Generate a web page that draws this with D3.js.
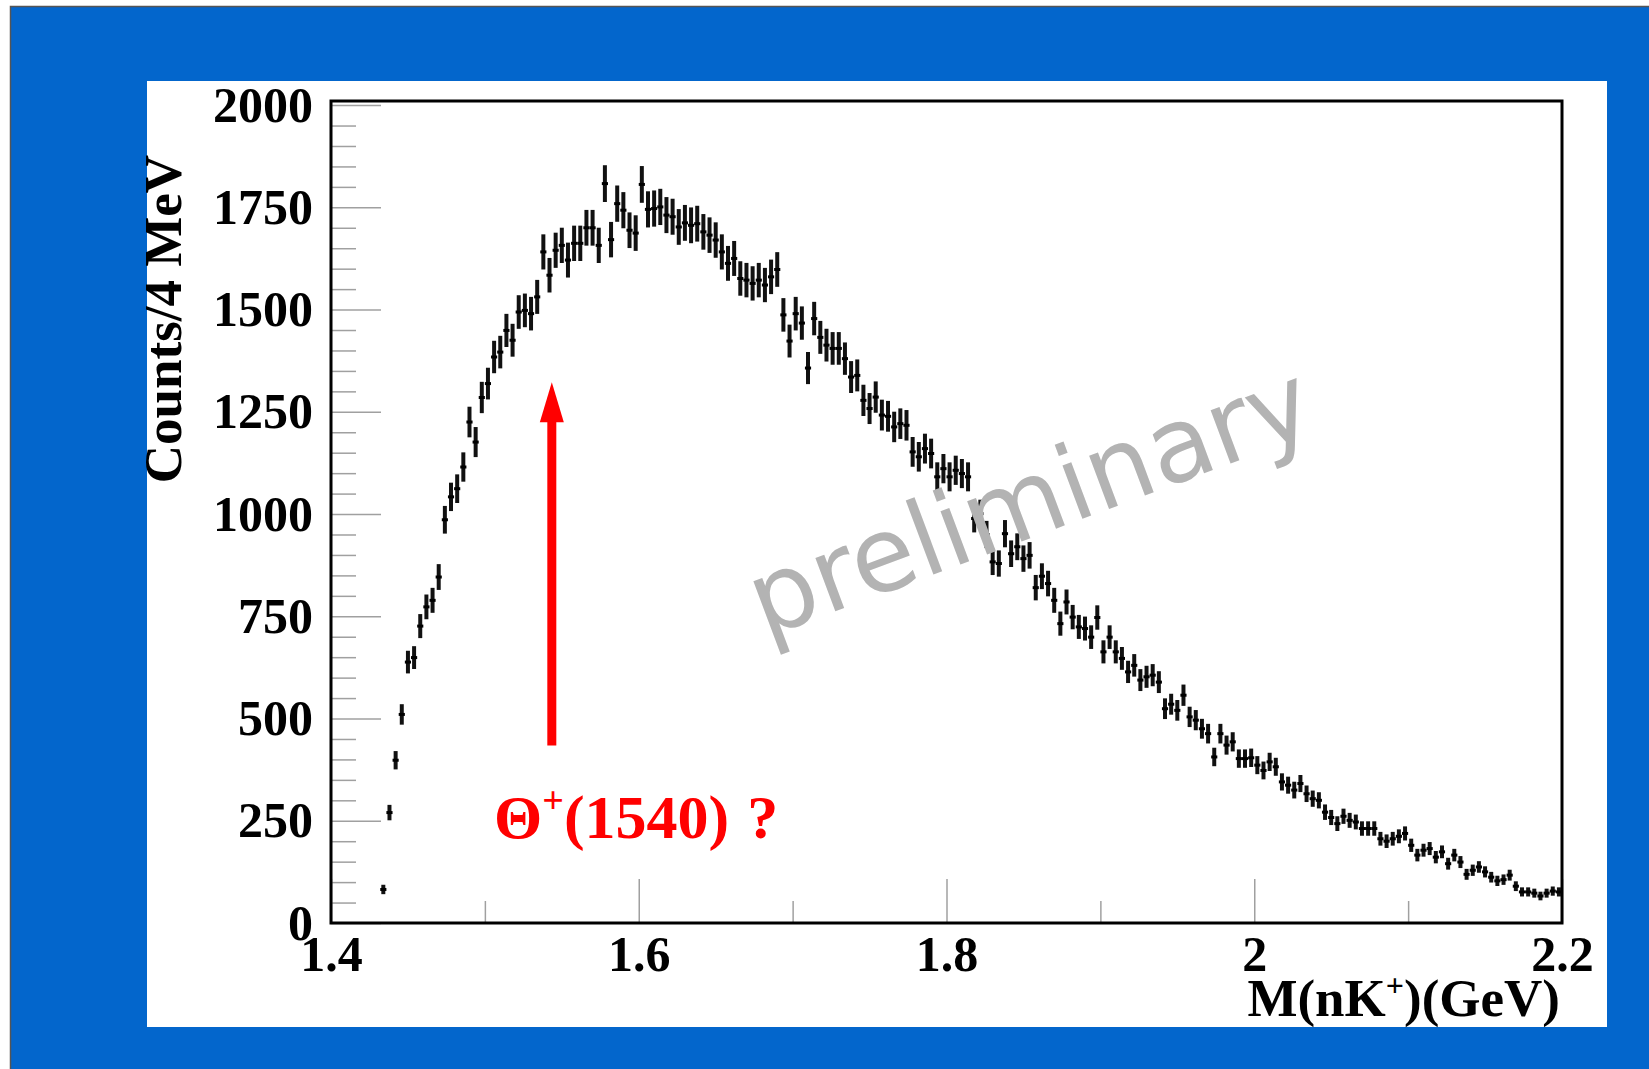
<!DOCTYPE html>
<html>
<head>
<meta charset="utf-8">
<script src="https://cdn.jsdelivr.net/npm/d3@7"></script>
<style>
  html, body { margin: 0; padding: 0; background: #fff; }
  svg { display: block; }
</style>
</head>
<body>
<svg id="chart" width="1649" height="1069"></svg>
<script>
// histogram: 4 MeV bins of M(nK+), first bin starts at 1.432 GeV
var binStart = 1.432;
var binWidth = 0.004;
var counts = [
  82, 270, 398, 510, 638, 649, 726, 773, 789, 846,
  986, 1042, 1062, 1115, 1225, 1176, 1285, 1319, 1384, 1396,
  1449, 1425, 1494, 1498, 1490, 1531, 1641, 1584, 1645, 1657,
  1621, 1662, 1662, 1700, 1700, 1657, 1808, 1671, 1759, 1743,
  1694, 1687, 1806, 1745, 1747, 1751, 1731, 1727, 1702, 1712,
  1706, 1710, 1690, 1682, 1670, 1641, 1613, 1625, 1576, 1572,
  1564, 1572, 1560, 1580, 1598, 1487, 1423, 1490, 1467, 1357,
  1478, 1432, 1413, 1405, 1405, 1380, 1335, 1339, 1278, 1258,
  1286, 1242, 1239, 1213, 1221, 1217, 1152, 1140, 1160, 1148,
  1091, 1111, 1091, 1107, 1099, 1091, 989, 1001, 950, 883,
  879, 952, 903, 920, 891, 899, 820, 848, 830, 789,
  732, 785, 748, 724, 720, 699, 747, 663, 699, 663,
  647, 614, 630, 594, 602, 606, 589, 524, 535, 520,
  557, 504, 496, 475, 463, 406, 463, 435, 443, 402,
  402, 404, 386, 373, 394, 382, 345, 337, 325, 341,
  316, 304, 300, 271, 258, 243, 261, 251, 247, 231,
  231, 231, 206, 200, 206, 212, 219, 190, 166, 178,
  182, 161, 174, 145, 166, 149, 119, 129, 137, 125,
  112, 103, 106, 117, 90, 76, 76, 73, 66, 73,
  78, 76
];

var xMajorTicks = [1.4, 1.6, 1.8, 2.0, 2.2];
var xMajorLabels = ["1.4", "1.6", "1.8", "2", "2.2"];
var xMinorTicks = [1.5, 1.7, 1.9, 2.1];
var yMajorTicks = [0, 250, 500, 750, 1000, 1250, 1500, 1750, 2000];
var yMinorTicks = d3.range(50, 2000, 50).filter(function(v){ return v % 250 !== 0; });

// annotation: arrow at the expected Theta+ mass
var arrowMass = 1.5435, arrowFrom = 434, arrowTo = 1322;

var svg = d3.select("#chart");
var serif = "'Liberation Serif', 'Times New Roman', serif";

var x = d3.scaleLinear().domain([1.4, 2.2]).range([331, 1562]);
var y = d3.scaleLinear().domain([0, 2010]).range([923, 101]);

// slide background
svg.append("rect").attr("width", 1649).attr("height", 1069).attr("fill", "#fff");
svg.append("rect")
  .attr("x", 10).attr("y", 6).attr("width", 1639).attr("height", 1063)
  .attr("fill", "#0366cc");
svg.append("path")
  .attr("d", "M10.5,1069V6.5H1649")
  .attr("fill", "none").attr("stroke", "#555").attr("stroke-width", 1.5);
svg.append("rect")
  .attr("x", 147).attr("y", 81).attr("width", 1460).attr("height", 946)
  .attr("fill", "#fff");

var styleAxis = function(g){
  g.select(".domain").remove();
  g.selectAll(".tick line").attr("stroke", "#a0a0a0").attr("stroke-width", 1.5);
  g.selectAll(".tick text")
    .attr("fill", "#000")
    .style("font-family", serif)
    .style("font-weight", "bold")
    .style("font-size", "50px");
};

// y axis, ticks pointing inwards
svg.append("g")
  .attr("transform", "translate(331,0)")
  .call(d3.axisLeft(y).tickValues(yMinorTicks).tickSize(-25).tickFormat(""))
  .call(styleAxis);
svg.append("g")
  .attr("transform", "translate(331,0)")
  .call(d3.axisLeft(y).tickValues(yMajorTicks).tickSize(-50).tickPadding(18)
    .tickFormat(d3.format("d")))
  .call(styleAxis);

// x axis
svg.append("g")
  .attr("transform", "translate(0,923)")
  .call(d3.axisBottom(x).tickValues(xMinorTicks).tickSize(-22).tickFormat(""))
  .call(styleAxis);
svg.append("g")
  .attr("transform", "translate(0,923)")
  .call(d3.axisBottom(x).tickValues(xMajorTicks).tickSize(-44).tickPadding(12)
    .tickFormat(function(d, i){ return xMajorLabels[i]; }))
  .call(styleAxis);

// data points with sqrt(N) error bars
var bins = counts.map(function(c, i){
  var lo = binStart + i * binWidth;
  return {lo: lo, hi: lo + binWidth, mid: lo + binWidth / 2, n: c, err: Math.sqrt(c)};
});

var pts = svg.append("g").attr("class", "points")
  .selectAll("g").data(bins).enter().append("g");

pts.append("line")
  .attr("x1", function(d){ return x(d.mid); })
  .attr("x2", function(d){ return x(d.mid); })
  .attr("y1", function(d){ return y(d.n - d.err) + 1; })
  .attr("y2", function(d){ return y(d.n + d.err) - 1; })
  .attr("stroke", "#111").attr("stroke-width", 4);

pts.append("line")
  .attr("x1", function(d){ return x(d.lo); })
  .attr("x2", function(d){ return x(d.hi); })
  .attr("y1", function(d){ return y(d.n); })
  .attr("y2", function(d){ return y(d.n); })
  .attr("stroke", "#000").attr("stroke-width", 3);

// frame
svg.append("rect")
  .attr("x", x(1.4)).attr("y", y(2010))
  .attr("width", x(2.2) - x(1.4)).attr("height", y(0) - y(2010))
  .attr("fill", "none").attr("stroke", "#000").attr("stroke-width", 3);

// axis titles
var xt = svg.append("text")
  .attr("x", 1560).attr("y", 1016)
  .attr("text-anchor", "end")
  .style("font-family", serif).style("font-weight", "bold").style("font-size", "53px")
  .attr("fill", "#000");
xt.append("tspan").text("M(nK");
xt.append("tspan").attr("dy", -20).style("font-size", "32px").text("+");
xt.append("tspan").attr("dy", 20).text(")(GeV)");

svg.append("text")
  .attr("transform", "translate(181,319) rotate(-90)")
  .attr("text-anchor", "middle")
  .style("font-family", serif).style("font-weight", "bold").style("font-size", "53px")
  .attr("fill", "#000")
  .text("Counts/4 MeV");

// arrow and label
var ax = x(arrowMass);
svg.append("line")
  .attr("x1", ax).attr("x2", ax)
  .attr("y1", y(arrowFrom)).attr("y2", y(arrowTo) + 38)
  .attr("stroke", "#ff0000").attr("stroke-width", 9);
svg.append("path")
  .attr("d", "M" + ax + "," + y(arrowTo) + "L" + (ax + 12) + "," + (y(arrowTo) + 40) +
    "L" + (ax - 12) + "," + (y(arrowTo) + 40) + "Z")
  .attr("fill", "#ff0000");

var lbl = svg.append("text")
  .attr("x", 494).attr("y", 838)
  .style("font-family", serif).style("font-weight", "bold").style("font-size", "62px")
  .attr("fill", "#ff0000");
lbl.append("tspan").text("\u0398");
lbl.append("tspan").attr("dy", -25).style("font-size", "38px").text("+");
lbl.append("tspan").attr("dy", 25).text("(1540)");
lbl.append("tspan").attr("dx", 18).text("?");

// watermark
svg.append("text")
  .attr("transform", "translate(1042,534) rotate(-20.5)")
  .attr("text-anchor", "middle")
  .style("font-family", "'DejaVu Sans', sans-serif").style("font-size", "104px")
  .attr("fill", "#b3b3b3")
  .text("preliminary");
</script>
</body>
</html>
